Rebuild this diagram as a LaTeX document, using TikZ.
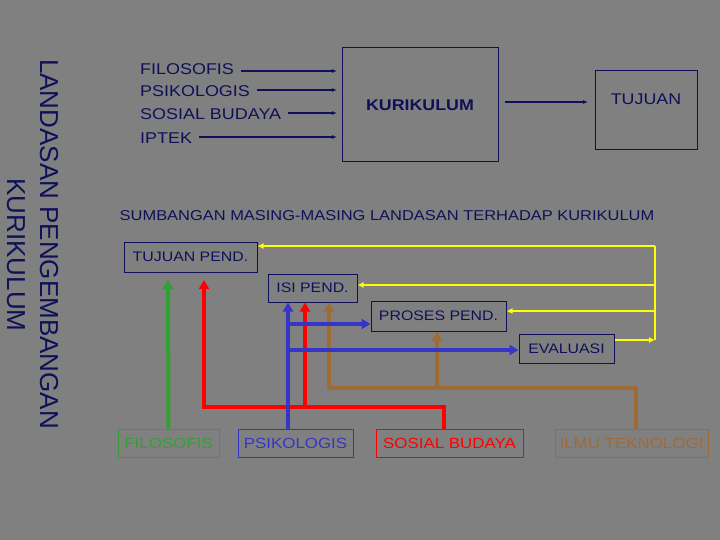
\documentclass[tikz,border=0pt]{standalone}
\usepackage{fontspec}
\setmainfont{Liberation Sans}
\newfontfamily\wide[FakeStretch=1.15]{Liberation Sans}
\usetikzlibrary{arrows.meta}
\definecolor{bg}{HTML}{808080}
\definecolor{navy}{HTML}{10105A}
\definecolor{cgreen}{HTML}{33A033}
\definecolor{cred}{HTML}{FF0000}
\definecolor{cblue}{HTML}{3535C8}
\definecolor{cbrown}{HTML}{A06A35}
\definecolor{cyel}{HTML}{FFFF00}
\tikzset{
  box/.style={draw=navy,line width=1pt,inner sep=0pt,text=navy,font=\wide\fontsize{13.8}{16}\selectfont},
  lbl/.style={inner sep=0pt,text=navy,anchor=west,font=\wide\fontsize{15.6}{17}\selectfont},
  navarr/.style={draw=navy,line width=1.3pt,-{Latex[length=5pt,width=4pt]}},
  thick4/.style={line width=4pt,-{Triangle[length=9pt,width=10pt]}},
  yel/.style={draw=cyel,line width=1.6pt,-{Latex[length=6pt,width=6pt]}},
  src/.style={draw,line width=0.8pt,inner sep=0pt,minimum height=28pt,font=\wide\fontsize{14.7}{16}\selectfont}
}
\begin{document}
\begin{tikzpicture}[x=1pt,y=-1pt]
\fill[bg] (0,0) rectangle (720,540);
\useasboundingbox (0,0) rectangle (720,540);
% vertical title
\node[rotate=-90,text=navy,font=\fontsize{26}{28}\selectfont,inner sep=0pt] (t1) at (49,244) {LANDASAN PENGEMBANGAN};
\node[rotate=-90,text=navy,font=\fontsize{26}{28}\selectfont,inner sep=0pt] (t2) at (16,255) {KURIKULUM};
% top
\node[lbl] (f) at (140,69) {FILOSOFIS};
\node[lbl] (p) at (140,91) {PSIKOLOGIS};
\node[lbl] (s) at (140,114) {SOSIAL BUDAYA};
\node[lbl] (i) at (140,138) {IPTEK};
\node[box,minimum width=156pt,minimum height=114pt,font=\wide\bfseries\fontsize{15.5}{17}\selectfont] (k) at (420,105) {KURIKULUM};
\node[box,minimum width=102pt,minimum height=79pt] (tj) at (646,110) {};
\node[text=navy,font=\wide\fontsize{15.5}{17}\selectfont,inner sep=0pt] (tjt) at (646,99) {TUJUAN};
\coordinate (fa) at (337,71);
\coordinate (pa) at (337,90);
\coordinate (sa) at (337,113);
\coordinate (ia) at (337,137);
\coordinate (ka) at (505,102);
\coordinate (tja) at (588,102);
\draw[navarr] ([xshift=7pt]f.east |- fa) -- (fa);
\draw[navarr] ([xshift=7pt]p.east |- pa) -- (pa);
\draw[navarr] ([xshift=7pt]s.east |- sa) -- (sa);
\draw[navarr] ([xshift=7pt]i.east |- ia) -- (ia);
\draw[navarr] (ka) -- (tja);
% subtitle
\node[text=navy,font=\wide\fontsize{14.3}{16}\selectfont,inner sep=0pt] (sub) at (387,216) {SUMBANGAN MASING-MASING LANDASAN TERHADAP KURIKULUM};
% lower boxes
\node[box,minimum width=133pt,minimum height=30pt] (tp) at (190.5,257) {TUJUAN PEND.};
\node[box,minimum width=89pt,minimum height=28pt] (ip) at (312.5,288) {ISI PEND.};
\node[box,minimum width=135pt,minimum height=30pt] (pp) at (438.5,316) {PROSES PEND.};
\node[box,minimum width=95pt,minimum height=29pt] (ev) at (566.5,348.5) {EVALUASI};
% sources
\node[src,cgreen,minimum width=101pt] (sf) at (168.5,443) {FILOSOFIS};
\node[src,cblue,minimum width=115pt] (sp) at (295.5,443) {PSIKOLOGIS};
\node[src,cred,minimum width=147pt] (ss) at (449.5,443) {SOSIAL BUDAYA};
\node[src,cbrown,minimum width=153pt] (si) at (631.5,443) {ILMU TEKNOLOGI};
% yellow feedback
\coordinate (yt) at (655,246);
\draw[yel] (ev.east |- 0,340) -- (655,340);
\draw[cyel,line width=1.6pt] (655,340) -- (yt);
\draw[yel] (yt) -- (tp.east |- yt);
\draw[yel] (655,285) -- (ip.east |- 0,285);
\draw[yel] (655,311) -- (pp.east |- 0,311);
% brown
\draw[cbrown,thick4] (si.north -| 636,0) -- (636,388) -- (329,388) -- (ip.south -| 329,0);
\draw[cbrown,thick4] (437,388) -- (pp.south -| 437,0);
% red
\draw[cred,thick4] (ss.north -| 444,0) -- (444,407) -- (204,407) -- (204,280);
\draw[cred,thick4] (305,407) -- (ip.south -| 305,0);
% green
\draw[cgreen,thick4] (sf.north) -- (168,280);
% blue
\draw[cblue,thick4] (sp.north -| 288,0) -- (ip.south -| 288,0);
\draw[cblue,thick4] (288,324) -- (pp.west |- 0,324);
\draw[cblue,thick4] (288,350) -- (ev.west |- 0,350);
\end{tikzpicture}
\end{document}
